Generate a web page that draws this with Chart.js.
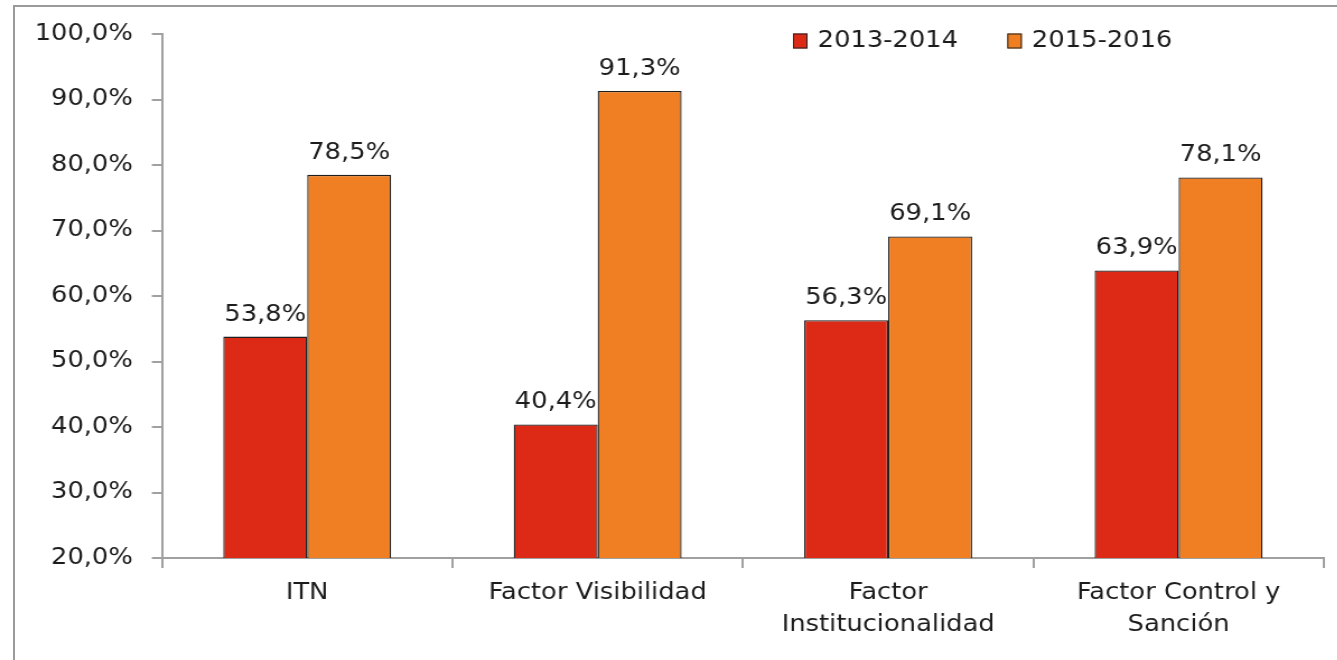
<!DOCTYPE html>
<html>
<head>
<meta charset="utf-8">
<script src="https://cdn.jsdelivr.net/npm/chart.js@4.4.1/dist/chart.umd.min.js"></script>
<style>
    html, body { margin: 0; padding: 0; background: #fff; overflow: hidden; }
    #frame { position: absolute; left: 13px; top: 5px; width: 1330px; height: 700px;
             border-left: 2px solid #9a9a9a; border-top: 2px solid #9a9a9a; pointer-events: none; }
    #wrap { position: absolute; left: 0; top: 0; width: 1194px; height: 660px;
            transform: scaleX(1.12); transform-origin: 0 0; }
</style>
</head>
<body>
<div id="wrap"><canvas id="chart" width="1194" height="660"></canvas></div>
<div id="frame"></div>
<script>
// Data
const categories = ['ITN', 'Factor Visibilidad', ['Factor', 'Institucionalidad'], ['Factor Control y', 'Sanción']];
const seriesNames = ['2013-2014', '2015-2016'];
const values2013 = [53.8, 40.4, 56.3, 63.9];
const values2015 = [78.5, 91.3, 69.1, 78.1];
const yTicks = [20, 30, 40, 50, 60, 70, 80, 90, 100];

const FONT = 'DejaVu Sans, Verdana, sans-serif';
const TEXT = '#1c1c1c';
const AXIS = '#a0a0a0';

function fmt(v) {
    return v.toFixed(1).replace('.', ',') + '%';
}

// labels above each bar
const barLabels = {
    id: 'barLabels',
    afterDatasetsDraw(chart) {
        const ctx = chart.ctx;
        ctx.save();
        ctx.font = '23px ' + FONT;
        ctx.fillStyle = TEXT;
        ctx.textAlign = 'center';
        ctx.textBaseline = 'alphabetic';
        chart.data.datasets.forEach((ds, i) => {
            chart.getDatasetMeta(i).data.forEach((bar, j) => {
                ctx.fillText(fmt(ds.data[j]), bar.x, bar.y - 16);
            });
        });
        ctx.restore();
    }
};

// legend drawn in the top right corner
const topLegend = {
    id: 'topLegend',
    afterDraw(chart) {
        const ctx = chart.ctx;
        ctx.save();
        ctx.font = '23px ' + FONT;
        ctx.textBaseline = 'middle';
        let x = 708;
        const y = 41;
        chart.data.datasets.forEach(ds => {
            ctx.fillStyle = ds.backgroundColor;
            ctx.strokeStyle = '#222';
            ctx.lineWidth = 1;
            ctx.fillRect(x, y - 7.5, 13, 15);
            ctx.strokeRect(x + 0.5, y - 7, 12, 14);
            ctx.fillStyle = TEXT;
            ctx.fillText(ds.label, x + 22, y);
            x += 22 + ctx.measureText(ds.label).width + 44;
        });
        ctx.restore();
    }
};

const ctx = document.getElementById('chart').getContext('2d');
const chart = new Chart(ctx, {
    type: 'bar',
    data: {
        labels: categories,
        datasets: [{
            label: seriesNames[0],
            data: values2013,
            backgroundColor: '#dd2a17',
            borderColor: '#1e1e1e',
            borderWidth: 1.3
        }, {
            label: seriesNames[1],
            data: values2015,
            backgroundColor: '#ef7f22',
            borderColor: '#1e1e1e',
            borderWidth: 1.3
        }]
    },
    options: {
        responsive: false,
        animation: false,
        devicePixelRatio: 1,
        layout: {
            padding: { left: 0, right: 12, top: 34, bottom: 0 }
        },
        datasets: {
            bar: {
                categoryPercentage: 0.578,
                barPercentage: 1
            }
        },
        plugins: {
            legend: { display: false },
            tooltip: { enabled: false }
        },
        scales: {
            y: {
                min: 20,
                max: 100,
                afterBuildTicks(scale) {
                    scale.ticks = yTicks.map(v => ({ value: v }));
                },
                afterFit(scale) {
                    scale.width = 144.6;
                },
                border: { color: AXIS, width: 2 },
                grid: {
                    drawOnChartArea: false,
                    drawTicks: true,
                    tickLength: 9,
                    color: AXIS,
                    lineWidth: 2
                },
                ticks: {
                    padding: 17,
                    color: TEXT,
                    font: { family: FONT, size: 23 },
                    callback: v => fmt(v)
                }
            },
            x: {
                afterFit(scale) {
                    scale.height = 102;
                },
                border: { color: AXIS, width: 2 },
                grid: {
                    offset: true,
                    drawOnChartArea: false,
                    drawTicks: true,
                    tickLength: 10,
                    color: AXIS,
                    lineWidth: 2
                },
                ticks: {
                    padding: 9,
                    color: TEXT,
                    maxRotation: 0,
                    autoSkip: false,
                    font: { family: FONT, size: 23, lineHeight: 1.4 }
                }
            }
        }
    },
    plugins: [barLabels, topLegend]
});
</script>
</body>
</html>
